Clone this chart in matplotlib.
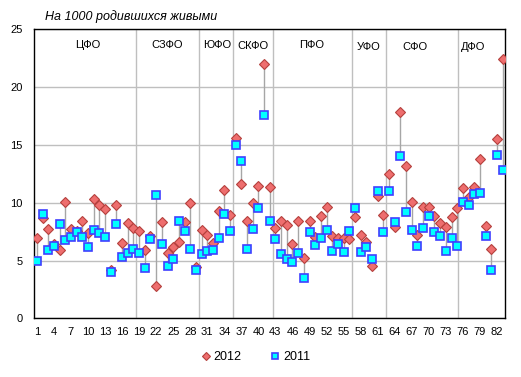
import numpy as np
import matplotlib.pyplot as plt

plt.rcParams['font.family'] = ['Liberation Sans', 'DejaVu Sans']

# номера регионов
regions = np.arange(1, 84)

# младенческая смертность, на 1000 родившихся живыми
y2012 = [7.0, 8.65, 7.75, 6.45, 5.93, 10.08, 7.71, 7.55, 8.4, 7.4,
         10.37, 9.78, 9.48, 4.2, 9.8, 6.55, 8.24, 7.8, 7.57, 5.94,
         7.1, 2.84, 8.3, 5.62, 6.16, 6.62, 8.3, 9.97, 4.45, 7.68,
         7.23, 6.53, 9.33, 11.07, 8.92, 15.6, 11.62, 8.43, 9.97, 11.47,
         21.98, 11.34, 7.85, 8.42, 8.07, 6.44, 8.42, 5.2, 8.42, 7.02,
         8.86, 9.6, 7.13, 6.98, 6.98, 6.85, 8.75, 7.2, 6.65, 4.58,
         10.6, 8.96, 12.45, 7.88, 17.82, 13.18, 10.1, 7.2, 9.66, 9.66,
         8.9, 8.24, 7.94, 8.76, 9.54, 11.3, 10.5, 11.36, 13.79, 8.0,
         5.98, 15.51, 22.44]
y2011 = [5.0, 9.0, 5.95, 6.25, 8.17, 6.77, 7.03, 7.47, 7.03, 6.2,
         7.63, 7.42, 7.03, 4.05, 8.17, 5.3, 5.65, 6.0, 5.69, 4.38,
         6.86, 10.66, 6.43, 4.55, 5.14, 8.42, 7.58, 6.02, 4.15, 5.58,
         5.84, 5.93, 6.94, 9.0, 7.56, 14.98, 13.64, 6.02, 7.75, 9.57,
         17.6, 8.43, 6.85, 5.59, 5.16, 4.85, 5.69, 3.47, 7.47, 6.36,
         6.95, 7.65, 5.83, 6.46, 5.78, 7.55, 9.54, 5.76, 6.19, 5.13,
         11.05, 7.46, 11.05, 8.33, 14.07, 9.19, 7.66, 6.29, 7.83, 8.89,
         7.46, 7.15, 5.84, 6.94, 6.27, 10.06, 9.83, 10.78, 10.84, 7.14,
         4.2, 14.14, 12.86]

# федеральные округа
okrug_names = ['ЦФО', 'СЗФО', 'ЮФО', 'СКФО', 'ПФО', 'УФО', 'СФО', 'ДФО']
okrug_x = [9.9, 23.9, 32.7, 39.1, 49.3, 59.4, 67.6, 77.8]
okrug_y = [23.65, 23.65, 23.65, 23.55, 23.65, 23.5, 23.45, 23.45]
separators = [18.5, 29.5, 35.5, 42.5, 56.5, 62.5, 75.1]

xticks = list(range(1, 84, 3))

fig = plt.figure(figsize=(5.21, 3.77), dpi=100)
ax = fig.add_axes([0.0653, 0.1552, 0.9049, 0.7671])

# линии между 2011 и 2012
ax.vlines(regions, np.minimum(y2012, y2011), np.maximum(y2012, y2011),
          color='#a6a6a6', lw=1, zorder=2)
for s in separators:
    ax.axvline(s, color='#bfbfbf', lw=1, zorder=1)

ax.plot(regions, y2012, ls='none', marker='D', ms=5, mfc='#ee6e6e',
        mec='#b5403d', mew=0.8, label='2012', zorder=3)
ax.plot(regions, y2011, ls='none', marker='s', ms=5.5, mfc='#00ffff',
        mec='#3f3fff', mew=1.2, label='2011', zorder=4)

for name, x, y in zip(okrug_names, okrug_x, okrug_y):
    ax.text(x, y, name, ha='center', va='center', fontsize=8)

ax.set_xlim(0.5, 83.5)
ax.set_ylim(0, 25)
ax.set_yticks(range(0, 26, 5))
ax.set_xticks(xticks)
ax.yaxis.grid(True, color='#bfbfbf', lw=1)
ax.set_axisbelow(True)
ax.tick_params(length=0, labelsize=8)
ax.tick_params(axis='y', pad=8)
ax.tick_params(axis='x', pad=6)
for sp in ax.spines.values():
    sp.set_color('black')
    sp.set_linewidth(1)

fig.text(45 / 521, 1 - 16.5 / 377, 'На 1000 родившихся живыми',
         ha='left', va='center', style='italic', fontsize=9)

fig.legend(loc='center', bbox_to_anchor=(255 / 521, 1 - 357 / 377), ncol=2,
           frameon=False, fontsize=9, handletextpad=0.1, columnspacing=2.2,
           markerscale=0.8, handlelength=1)

fig.savefig('out.png', dpi=100)
